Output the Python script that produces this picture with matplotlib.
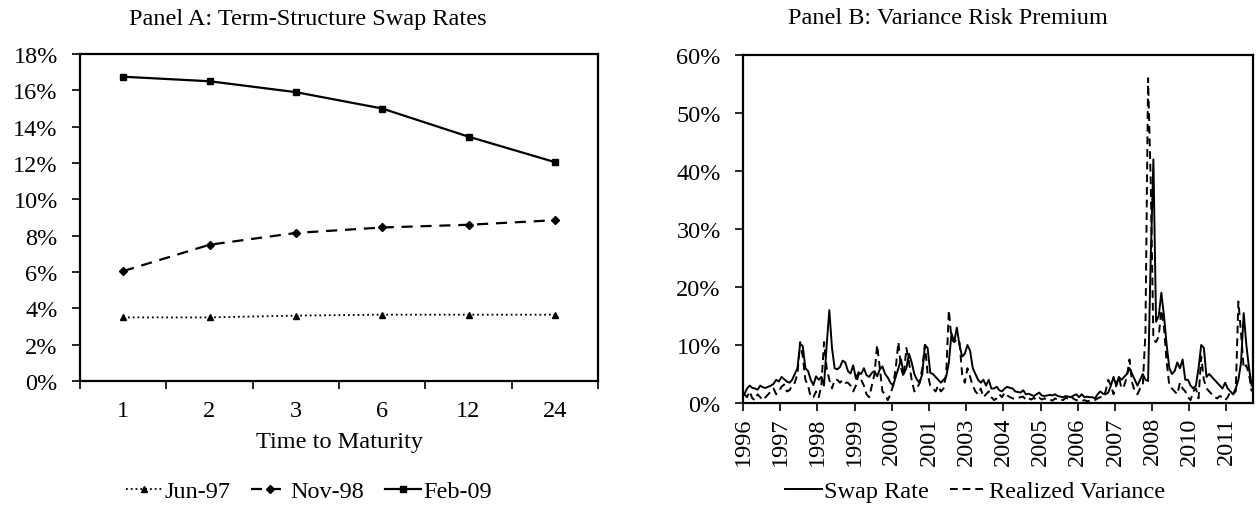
import numpy as np
import pandas as pd
import matplotlib
matplotlib.use("Agg")
import matplotlib.pyplot as plt
from matplotlib.ticker import PercentFormatter, FixedLocator, NullFormatter

# ============================================================
# DATA
# ============================================================

maturities = ["1", "2", "3", "6", "12", "24"]
jun97 = [3.5, 3.5, 3.6, 3.65, 3.65, 3.65]
nov98 = [6.05, 7.5, 8.15, 8.45, 8.6, 8.85]
feb09 = [16.75, 16.5, 15.9, 15.0, 13.45, 12.05]

start_month = "1996-01"

swap_rate = [
    1.5, 2.5, 3.0, 2.6, 2.5, 2.3, 3.0, 2.7, 2.6, 2.8,
    3.0, 3.3, 4.0, 3.7, 4.5, 4.1, 3.7, 3.5, 4.0, 5.0,
    6.0, 10.2, 9.8, 6.0, 5.5, 4.0, 3.1, 4.6, 4.0, 4.5,
    3.0, 10.0, 16.0, 9.5, 6.0, 5.8, 6.2, 7.3, 7.0, 5.5,
    5.1, 6.5, 4.2, 5.3, 5.0, 6.0, 4.8, 4.5, 5.2, 5.5,
    4.6, 5.8, 6.3, 5.0, 4.4, 3.5, 3.0, 4.5, 6.0, 7.5,
    5.0, 6.0, 8.5, 7.0, 5.0, 4.0, 3.5, 5.0, 10.0, 9.5,
    5.2, 5.0, 4.5, 4.0, 3.5, 4.0, 4.5, 7.0, 12.0, 10.5,
    13.0, 10.0, 8.0, 8.5, 10.0, 9.0, 6.0, 5.0, 4.0, 3.5,
    4.0, 3.0, 4.0, 2.5, 2.5, 2.8, 2.2, 2.0, 2.5, 2.8,
    2.6, 2.5, 2.0, 1.9, 1.8, 2.2, 1.5, 1.6, 1.4, 1.2,
    1.5, 1.8, 1.3, 1.2, 1.3, 1.4, 1.3, 1.5, 1.2, 1.1,
    1.0, 1.2, 1.1, 1.0, 1.3, 1.5, 1.0, 1.5, 1.0, 1.1,
    1.0, 1.0, 0.8, 1.5, 2.0, 1.6, 1.5, 1.8, 3.0, 4.5,
    3.0, 4.5, 4.0, 4.5, 5.0, 6.0, 5.0, 4.0, 3.0, 4.0,
    5.0, 4.0, 3.8, 25.0, 42.0, 14.0, 15.0, 19.0, 15.0, 10.0,
    6.0, 5.0, 5.5, 7.0, 6.0, 7.5, 4.0, 4.0, 3.0, 2.5,
    3.0, 6.0, 10.0, 9.5, 4.5, 5.0, 4.5, 4.0, 3.5, 3.0,
    2.5, 3.5, 2.5, 2.0, 1.5, 2.5, 4.0, 7.0, 15.5, 10.0,
    6.0, 3.0,
]

realized_var = [
    1.5, 1.0, 2.0, 0.8, 0.5, 1.5, 1.0, 0.5, 1.0, 1.5,
    2.0, 2.5, 1.5, 2.0, 2.8, 3.2, 2.0, 2.2, 3.0, 3.5,
    5.0, 10.5, 8.0, 4.0, 3.0, 1.0, 1.0, 2.0, 1.0, 3.0,
    10.5, 6.0, 4.0, 2.5, 4.0, 4.0, 3.5, 4.0, 3.5, 3.5,
    3.0, 2.0, 3.0, 5.0, 4.0, 3.0, 1.5, 1.0, 3.0, 5.0,
    10.0, 6.0, 2.0, 1.5, 0.5, 1.5, 3.0, 6.0, 10.5, 6.0,
    4.5, 9.5, 7.0, 4.0, 2.0, 2.5, 3.5, 6.0, 10.0, 5.0,
    3.0, 2.5, 2.0, 3.0, 2.0, 2.5, 5.0, 16.0, 11.0, 10.5,
    11.0, 10.5, 5.0, 3.5, 6.0, 4.5, 3.0, 2.0, 1.5, 2.5,
    1.0, 1.5, 2.0, 1.0, 0.5, 0.8, 1.5, 1.0, 1.8, 1.3,
    1.0, 0.8, 0.7, 0.9, 1.0, 1.1, 0.5, 0.8, 0.6, 0.9,
    0.5, 0.9, 0.6, 0.8, 0.5, 0.6, 0.4, 0.8, 0.5, 0.6,
    0.5, 0.9, 0.7, 1.2, 0.7, 0.5, 0.4, 0.3, 0.5, 0.3,
    0.4, 0.5, 0.5, 0.8, 1.0, 1.0, 2.0, 4.0, 3.0, 1.5,
    3.0, 4.5, 2.5, 3.0, 4.5, 7.5, 3.5, 2.0, 1.5, 2.5,
    3.0, 12.0, 56.0, 38.0, 11.0, 10.5, 11.5, 16.0, 13.0, 7.0,
    3.0, 2.5, 2.0, 1.5, 3.5, 2.5, 2.0, 1.0, 0.5, 2.0,
    2.5, 0.8, 8.0, 4.0, 2.5, 2.0, 1.5, 1.0, 0.8, 1.2,
    1.0, 0.5, 1.0, 2.0, 1.5, 2.0, 17.5, 12.0, 6.0, 6.5,
    5.0, 2.0,
]

# ============================================================
# STYLE
# ============================================================

plt.rcParams['font.family'] = ['Liberation Serif', 'DejaVu Serif']
FS = 17.5
W, H = 1257, 510


def box(ax):
    for s in ax.spines.values():
        s.set_linewidth(1.6)
        s.set_color("black")
    ax.tick_params(axis="both", direction="out", length=6, width=1.2,
                   labelsize=FS, colors="black")
    ax.tick_params(axis="y", pad=10)


fig = plt.figure(figsize=(W / 100, H / 100), dpi=100)

# ============================================================
# PANEL A
# ============================================================

axA = fig.add_axes([80 / W, 1 - 382 / H, (598 - 80) / W, (382 - 55) / H])
box(axA)

xa = np.arange(len(maturities)) + 0.5

axA.plot(xa, jun97, color="black", linestyle=":", linewidth=1.3,
         marker="^", markersize=5, label="Jun-97")
axA.plot(xa, nov98, color="black", linestyle=(0, (5, 3.5)), linewidth=1.6,
         marker="D", markersize=4.5, label="Nov-98")
axA.plot(xa, feb09, color="black", linestyle="-", linewidth=1.6,
         marker="s", markersize=4.5, label="Feb-09")

axA.set_xlim(0, len(maturities))
axA.set_ylim(0, 18)
axA.yaxis.set_major_locator(FixedLocator(np.arange(0, 19, 2)))
axA.yaxis.set_major_formatter(PercentFormatter(decimals=0))
axA.xaxis.set_major_locator(FixedLocator(np.arange(len(maturities) + 1)))
axA.xaxis.set_major_formatter(NullFormatter())
axA.set_xticks(xa, maturities, minor=True)
axA.tick_params(axis="x", which="minor", length=0, pad=14, labelsize=FS)
axA.set_xlabel("Time to Maturity", fontsize=FS, labelpad=7)

fig.text(308 / W, 1 - 19 / H, "Panel A: Term-Structure Swap Rates",
         ha="center", va="center", fontsize=FS)

hA, lA = axA.get_legend_handles_labels()
fig.legend(hA, lA, loc="center", bbox_to_anchor=(309 / W, 1 - 492 / H),
           ncol=3, frameon=False, fontsize=FS, handlelength=1.5,
           handletextpad=0.1, columnspacing=0.85)

# ============================================================
# PANEL B
# ============================================================

axB = fig.add_axes([743 / W, 1 - 404 / H, (1253 - 743) / W, (404 - 56) / H])
box(axB)

dates = pd.date_range(start_month, periods=len(swap_rate), freq="MS")
xb = np.arange(len(dates)) + 0.5

axB.plot(xb, swap_rate, color="black", linestyle="-", linewidth=1.4,
         label="Swap Rate")
axB.plot(xb, realized_var, color="black", linestyle=(0, (4, 2.5)),
         linewidth=1.4, label="Realized Variance")

axB.set_xlim(0, len(dates))
axB.set_ylim(0, 60)
axB.yaxis.set_major_locator(FixedLocator(np.arange(0, 61, 10)))
axB.yaxis.set_major_formatter(PercentFormatter(decimals=0))

tick_pos = np.arange(0, len(dates), 14)
axB.set_xticks(tick_pos, [str(dates[i].year) for i in tick_pos],
               rotation=90)

fig.text(948 / W, 1 - 19 / H, "Panel B: Variance Risk Premium",
         ha="center", va="center", fontsize=FS)

hB, lB = axB.get_legend_handles_labels()
fig.legend(hB, lB, loc="center", bbox_to_anchor=(975 / W, 1 - 492 / H),
           ncol=2, frameon=False, fontsize=FS, handlelength=1.5,
           handletextpad=0.1, columnspacing=0.85)

fig.savefig("out.png", dpi=100)
